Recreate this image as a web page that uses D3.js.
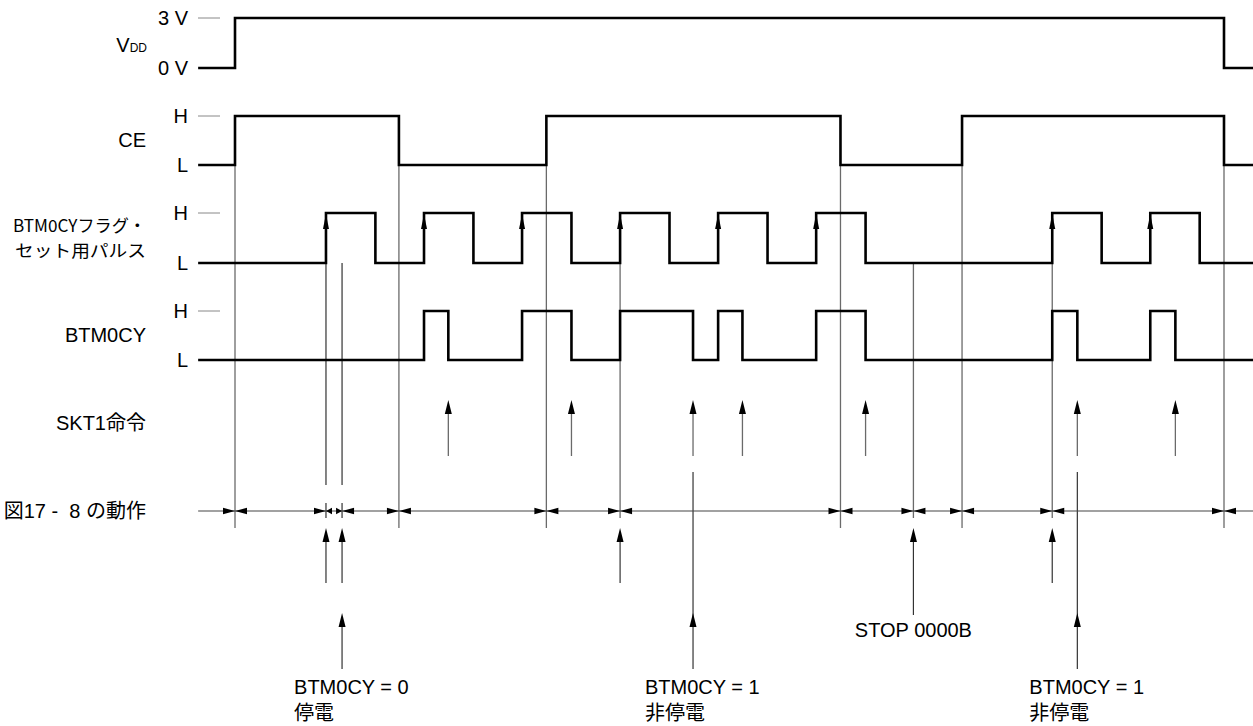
<!DOCTYPE html>
<html>
<head>
<meta charset="utf-8">
<script src="https://cdn.jsdelivr.net/npm/d3@7"></script>
<style>
  body { margin: 0; background: #fff; }
  svg text { font-family: "Liberation Sans", Arial, "Noto Sans CJK JP", sans-serif; fill: #000; }
  .jp { font-family: "Noto Sans CJK JP", sans-serif; }
</style>
</head>
<body>
<svg id="chart" width="1253" height="726"></svg>
<script>
// time in ms (1 pulse period = 125 ms)
const tView = [-47, 1298];
const vddEdges = [0, 1261];
const ceEdges = [0, 209, 397, 772, 927, 1261];
const pulseEdges = [116, 179, 241, 304, 366, 429, 491, 554, 616, 679, 741, 804, 1042, 1105, 1167, 1230];
const btmEdges = [241, 272, 366, 429, 491, 584, 616, 647, 741, 804, 1042, 1074, 1167, 1199];
const skt1Times = [272, 429, 584, 647, 804, 1074, 1199];
const stepTimes = [0, 116, 136.5, 209, 397, 491, 772, 865, 927, 1042, 1261];
const markTimes = [116, 136.5, 491, 1042];
const stopTime = 865;
const checkTimes = [136.5, 584, 1074];
const checkLabels = [["BTM0CY = 0", "停電"], ["BTM0CY = 1", "非停電"], ["BTM0CY = 1", "非停電"]];

const svg = d3.select('#chart');
const x = d3.scaleLinear().domain([0, 1261]).range([235, 1224]);

// signal rows: level 1 -> hi, level 0 -> lo
const rows = [
    {name: 'vdd', edges: vddEdges, hi: 18, lo: 68, hiLab: '3 V', loLab: '0 V'},
    {name: 'ce', edges: ceEdges, hi: 116, lo: 165, hiLab: 'H', loLab: 'L'},
    {name: 'pulse', edges: pulseEdges, hi: 213, lo: 263, hiLab: 'H', loLab: 'L'},
    {name: 'btm', edges: btmEdges, hi: 311, lo: 360, hiLab: 'H', loLab: 'L'}
];
rows.forEach(r => { r.y = d3.scaleLinear().domain([0, 1]).range([r.lo, r.hi]); });
const row = name => rows.find(r => r.name == name);

function arrowHead(g, px, py, dir, len, half) {
    // dir: 'up', 'left', 'right'
    let pts;
    if (dir == 'up') pts = [[px, py], [px - half, py + len], [px + half, py + len]];
    else if (dir == 'right') pts = [[px, py], [px - len, py - half], [px - len, py + half]];
    else pts = [[px, py], [px + len, py - half], [px + len, py + half]];
    g.append('path').attr('d', d3.line()(pts) + 'Z').attr('fill', '#000');
}

const guides = svg.append('g');
const gray = '#6a6a6a';

// long gray lines at CE edges
guides.selectAll('line.ce').data(ceEdges).join('line')
    .attr('x1', d => x(d)).attr('x2', d => x(d))
    .attr('y1', row('ce').lo).attr('y2', 528)
    .attr('stroke', gray).attr('stroke-width', 1.3);

// lines from pulse rises down to the operation line
const shortMarks = [116, 136.5];
guides.selectAll('line.sm').data(shortMarks).join('line')
    .attr('x1', d => x(d)).attr('x2', d => x(d))
    .attr('y1', row('pulse').lo).attr('y2', 485)
    .attr('stroke', '#333').attr('stroke-width', 1.2);
guides.selectAll('line.smt').data(shortMarks).join('line')
    .attr('x1', d => x(d)).attr('x2', d => x(d))
    .attr('y1', 503).attr('y2', 518)
    .attr('stroke', '#333').attr('stroke-width', 1.2);
guides.selectAll('line.lm').data([491, stopTime, 1042]).join('line')
    .attr('x1', d => x(d)).attr('x2', d => x(d))
    .attr('y1', row('pulse').lo).attr('y2', 518)
    .attr('stroke', gray).attr('stroke-width', 1.3);

// arrows below the operation line
markTimes.forEach(t => {
    guides.append('line').attr('x1', x(t)).attr('x2', x(t)).attr('y1', 583).attr('y2', 540)
        .attr('stroke', '#333').attr('stroke-width', 1.2);
    arrowHead(guides, x(t), 528, 'up', 14, 3.5);
});
guides.append('line').attr('x1', x(stopTime)).attr('x2', x(stopTime)).attr('y1', 615).attr('y2', 540)
    .attr('stroke', '#333').attr('stroke-width', 1.2);
arrowHead(guides, x(stopTime), 528, 'up', 14, 3.5);
svg.append('text').attr('x', x(stopTime)).attr('y', 637).attr('text-anchor', 'middle')
    .attr('font-size', 20).text('STOP 0000B');

// BTM0CY check arrows and labels
checkTimes.forEach((t, i) => {
    guides.append('line').attr('x1', x(t)).attr('x2', x(t))
        .attr('y1', i == 0 ? 625 : 472).attr('y2', 669)
        .attr('stroke', '#333').attr('stroke-width', 1.2);
    arrowHead(guides, x(t), 613, 'up', 14, 3.5);
    const tx = svg.append('text').attr('x', x(t) - 48).attr('font-size', 20);
    tx.append('tspan').attr('x', x(t) - 48).attr('y', 694).text(checkLabels[i][0]);
    tx.append('tspan').attr('x', x(t) - 48).attr('y', 720).attr('class', 'jp').text(checkLabels[i][1]);
});

// SKT1 instruction arrows
skt1Times.forEach(t => {
    guides.append('line').attr('x1', x(t)).attr('x2', x(t)).attr('y1', 456).attr('y2', 412)
        .attr('stroke', gray).attr('stroke-width', 1.3);
    arrowHead(guides, x(t), 400, 'up', 14, 3.5);
});

// operation dimension line
const dimY = 511;
const dim = svg.append('g');
dim.append('line').attr('x1', x(tView[0])).attr('x2', x(tView[1])).attr('y1', dimY).attr('y2', dimY)
    .attr('stroke', '#444').attr('stroke-width', 1.2);
arrowHead(dim, x(stepTimes[0]), dimY, 'right', 12, 3.2);
d3.pairs(stepTimes).forEach(([a, b]) => {
    const gap = x(b) - x(a);
    const len = gap < 30 ? 6 : 12;
    arrowHead(dim, x(a), dimY, 'left', len, 3.2);
    arrowHead(dim, x(b), dimY, 'right', len, 3.2);
});
arrowHead(dim, x(stepTimes[stepTimes.length - 1]), dimY, 'left', 12, 3.2);

// level reference ticks
rows.forEach(r => {
    svg.append('line').attr('x1', 198).attr('x2', 220).attr('y1', r.hi).attr('y2', r.hi)
        .attr('stroke', '#888').attr('stroke-width', 1);
});

// waveforms
function wavePoints(edges) {
    let lvl = 0;
    const pts = [[tView[0], 0]];
    edges.forEach(t => {
        pts.push([t, lvl]);
        lvl = 1 - lvl;
        pts.push([t, lvl]);
    });
    pts.push([tView[1], lvl]);
    return pts;
}
rows.forEach(r => {
    const line = d3.line().x(d => x(d[0])).y(d => r.y(d[1]));
    svg.append('path').attr('d', line(wavePoints(r.edges)))
        .attr('fill', 'none').attr('stroke', '#000').attr('stroke-width', 2.6)
        .attr('stroke-linejoin', 'miter');
});
// arrowheads on rising edges of the set pulse
pulseEdges.filter((d, i) => i % 2 == 0).forEach(t => {
    arrowHead(svg, x(t), row('pulse').hi + 1, 'up', 15, 3);
});

// level labels
rows.forEach(r => {
    svg.append('text').attr('x', 188).attr('y', r.hi + 7).attr('text-anchor', 'end')
        .attr('font-size', 20).text(r.hiLab);
    svg.append('text').attr('x', 188).attr('y', r.lo + 7).attr('text-anchor', 'end')
        .attr('font-size', 20).text(r.loLab);
});

// row names
const vdd = svg.append('text').attr('x', 147).attr('y', 52).attr('text-anchor', 'end').attr('font-size', 20);
vdd.append('tspan').text('V');
vdd.append('tspan').attr('font-size', 12).text('DD');
svg.append('text').attr('x', 146).attr('y', 147).attr('text-anchor', 'end').attr('font-size', 20).text('CE');
svg.append('text').attr('x', 146).attr('y', 232).attr('text-anchor', 'end').attr('class', 'jp')
    .attr('font-size', 17).attr('textLength', 133).attr('lengthAdjust', 'spacingAndGlyphs')
    .text('BTM0CYフラグ・');
svg.append('text').attr('x', 146).attr('y', 257).attr('text-anchor', 'end').attr('class', 'jp')
    .attr('font-size', 17).attr('textLength', 131).attr('lengthAdjust', 'spacingAndGlyphs')
    .text('セット用パルス');
svg.append('text').attr('x', 146).attr('y', 342).attr('text-anchor', 'end').attr('font-size', 20).text('BTM0CY');
svg.append('text').attr('x', 146).attr('y', 430).attr('text-anchor', 'end').attr('font-size', 20).text('SKT1命令');
svg.append('text').attr('x', 146).attr('y', 518).attr('text-anchor', 'end').attr('font-size', 20)
    .attr('xml:space', 'preserve').text('図17 -  8 の動作');
</script>
</body>
</html>
